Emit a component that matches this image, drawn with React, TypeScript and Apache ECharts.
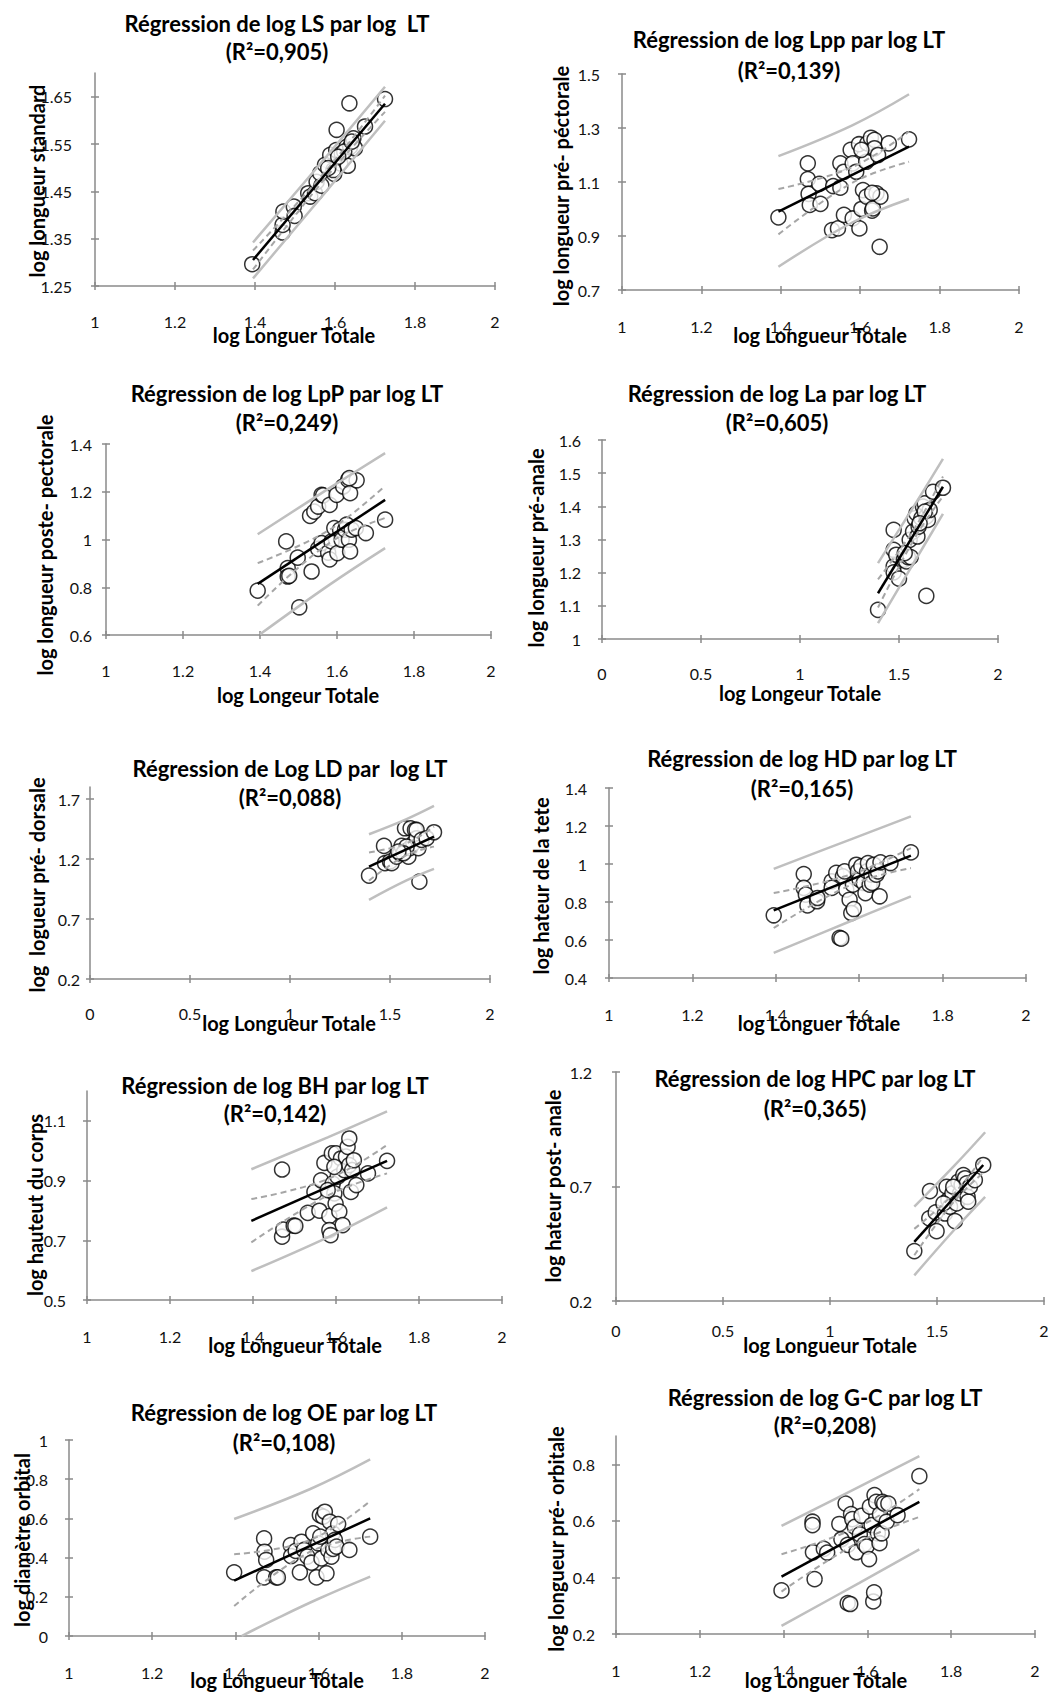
import React, { useEffect, useRef } from "react";
import * as echarts from "echarts";

// ---------- tick labels ----------
const xTicksA = [1, 1.2, 1.4, 1.6, 1.8, 2];
const xTicksB = [0, 0.5, 1, 1.5, 2];
const yTicksLS = [1.25, 1.35, 1.45, 1.55, 1.65];
const yTicksLpp = [0.7, 0.9, 1.1, 1.3, 1.5];
const yTicksLpP = [0.6, 0.8, 1, 1.2, 1.4];
const yTicksLa = [1, 1.1, 1.2, 1.3, 1.4, 1.5, 1.6];
const yTicksLD = [0.2, 0.7, 1.2, 1.7];
const yTicksHD = [0.4, 0.6, 0.8, 1, 1.2, 1.4];
const yTicksBH = [0.5, 0.7, 0.9, 1.1];
const yTicksHPC = [0.2, 0.7, 1.2];
const yTicksOE = [0, 0.2, 0.4, 0.6, 0.8, 1];
const yTicksGC = [0.2, 0.4, 0.6, 0.8];

// ---------- texts ----------
const titles = [
  "Régression de log LS par log  LT",
  "Régression de log Lpp par log LT",
  "Régression de log LpP par log LT",
  "Régression de log La par log LT",
  "Régression de Log LD par  log LT",
  "Régression de log HD par log LT",
  "Régression de log BH par log LT",
  "Régression de log HPC par log LT",
  "Régression de log OE par log LT",
  "Régression de log G-C par log LT",
];
const r2Labels = ["(R²=0,905)", "(R²=0,139)", "(R²=0,249)", "(R²=0,605)", "(R²=0,088)", "(R²=0,165)", "(R²=0,142)", "(R²=0,365)", "(R²=0,108)", "(R²=0,208)"];
const xNames = [
  "log Longuer Totale", "log Longueur Totale", "log Longeur Totale", "log Longeur Totale", "log Longueur Totale",
  "log Longuer Totale", "log Longueur Totale", "log Longueur Totale", "log Longueur Totale", "log Longuer Totale",
];
const yNames = [
  "log longueur standard", "log longueur pré- péctorale", "log longueur poste- pectorale", "log longueur pré-anale",
  "log  logueur pré- dorsale", "log hateur de la tete", "log hauteut du corps", "log hateur post- anale",
  "log diamètre orbital", "log longueur pré- orbitale",
];

// ---------- Panel 1: LS ----------
const lsPoints = [[1.393,1.296],[1.469,1.363],[1.469,1.379],[1.471,1.407],[1.497,1.418],[1.499,1.398],[1.533,1.446],[1.538,1.439],[1.55,1.446],[1.554,1.47],[1.566,1.462],[1.563,1.488],[1.575,1.506],[1.588,1.527],[1.598,1.487],[1.604,1.58],[1.603,1.537],[1.613,1.509],[1.617,1.53],[1.629,1.544],[1.632,1.504],[1.636,1.636],[1.638,1.544],[1.646,1.562],[1.65,1.541],[1.623,1.534],[1.675,1.587],[1.725,1.645],[1.596,1.495],[1.608,1.523],[1.642,1.555],[1.583,1.499]];
const lsFit = [[1.395,1.305],[1.725,1.635]];
const lsPredUp = [[1.395,1.342],[1.58,1.525],[1.725,1.671]];
const lsPredLo = [[1.395,1.266],[1.58,1.452],[1.725,1.599]];
const lsCiUp = [[1.395,1.325],[1.58,1.496],[1.725,1.652]];
const lsCiLo = [[1.395,1.285],[1.58,1.482],[1.725,1.618]];

// ---------- Panel 2: Lpp ----------
const lppPoints = [[1.394,0.969],[1.468,1.169],[1.468,1.111],[1.47,1.056],[1.473,1.015],[1.497,1.093],[1.5,1.019],[1.529,0.922],[1.544,0.928],[1.532,1.085],[1.55,1.079],[1.55,1.169],[1.559,1.138],[1.559,0.978],[1.576,1.219],[1.581,0.965],[1.581,1.169],[1.59,1.138],[1.597,1.24],[1.603,1.0],[1.598,0.928],[1.607,1.07],[1.615,1.175],[1.616,1.046],[1.618,1.243],[1.627,1.264],[1.63,0.994],[1.632,1.002],[1.636,1.256],[1.636,1.225],[1.641,1.058],[1.645,1.2],[1.649,0.86],[1.651,1.046],[1.672,1.243],[1.723,1.258],[1.63,1.06],[1.603,1.219]];
const lppFit = [[1.394,0.99],[1.723,1.231]];
const lppPredUp = [[1.394,1.196],[1.58,1.31],[1.723,1.425]];
const lppPredLo = [[1.394,0.786],[1.58,0.95],[1.723,1.037]];
const lppCiUp = [[1.394,1.074],[1.58,1.155],[1.723,1.287]];
const lppCiLo = [[1.394,0.906],[1.58,1.097],[1.723,1.175]];

// ---------- Panel 3: LpP ----------
const lpPPoints = [[1.394,0.786],[1.468,0.992],[1.472,0.88],[1.472,0.845],[1.476,0.848],[1.498,0.924],[1.502,0.716],[1.534,0.866],[1.53,1.099],[1.541,1.117],[1.551,1.138],[1.551,0.961],[1.56,1.187],[1.564,1.185],[1.56,0.985],[1.577,0.945],[1.581,1.145],[1.581,0.917],[1.586,0.992],[1.593,1.048],[1.599,1.187],[1.601,0.943],[1.608,1.041],[1.612,0.999],[1.616,1.222],[1.621,1.041],[1.625,1.062],[1.629,1.25],[1.631,0.999],[1.634,1.194],[1.634,0.95],[1.638,1.041],[1.649,1.048],[1.651,1.248],[1.675,1.027],[1.725,1.083],[1.632,1.257]];
const lpPFit = [[1.394,0.814],[1.725,1.166]];
const lpPPredUp = [[1.394,1.022],[1.58,1.215],[1.725,1.362]];
const lpPPredLo = [[1.4,0.603],[1.58,0.81],[1.725,0.964]];
const lpPCiUp = [[1.394,0.901],[1.58,1.04],[1.725,1.225]];
const lpPCiLo = [[1.394,0.723],[1.58,0.985],[1.725,1.09]];

// ---------- Panel 4: La ----------
const laPoints = [[1.394,1.088],[1.473,1.329],[1.473,1.269],[1.473,1.219],[1.473,1.201],[1.486,1.254],[1.5,1.182],[1.525,1.239],[1.537,1.234],[1.545,1.247],[1.559,1.247],[1.554,1.299],[1.571,1.324],[1.579,1.364],[1.588,1.379],[1.593,1.309],[1.599,1.339],[1.613,1.364],[1.621,1.399],[1.63,1.409],[1.638,1.369],[1.638,1.13],[1.646,1.359],[1.655,1.389],[1.672,1.444],[1.722,1.456],[1.63,1.384],[1.604,1.349],[1.529,1.259]];
const laFit = [[1.394,1.138],[1.722,1.459]];
const laPredUp = [[1.394,1.229],[1.58,1.405],[1.722,1.543]];
const laPredLo = [[1.394,1.048],[1.58,1.235],[1.722,1.377]];
const laCiUp = [[1.394,1.18],[1.58,1.335],[1.722,1.49]];
const laCiLo = [[1.394,1.095],[1.58,1.305],[1.722,1.43]];

// ---------- Panel 5: LD ----------
const ldPoints = [[1.395,1.062],[1.47,1.309],[1.475,1.165],[1.5,1.179],[1.508,1.165],[1.533,1.22],[1.55,1.248],[1.558,1.309],[1.575,1.456],[1.575,1.262],[1.592,1.22],[1.6,1.29],[1.603,1.456],[1.617,1.331],[1.625,1.442],[1.633,1.373],[1.633,1.442],[1.642,1.29],[1.647,1.012],[1.658,1.359],[1.683,1.373],[1.72,1.423],[1.583,1.303],[1.567,1.248],[1.542,1.262]];
const ldFit = [[1.395,1.137],[1.72,1.387]];
const ldPredUp = [[1.395,1.406],[1.58,1.53],[1.72,1.642]];
const ldPredLo = [[1.395,0.86],[1.58,1.02],[1.72,1.118]];
const ldCiUp = [[1.395,1.254],[1.58,1.33],[1.72,1.47]];
const ldCiLo = [[1.395,1.02],[1.58,1.23],[1.72,1.303]];

// ---------- Panel 6: HD ----------
const hdPoints = [[1.395,0.73],[1.467,0.947],[1.467,0.874],[1.472,0.839],[1.476,0.782],[1.499,0.804],[1.5,0.821],[1.534,0.909],[1.534,0.874],[1.545,0.953],[1.553,0.611],[1.557,0.607],[1.561,0.935],[1.565,0.961],[1.569,0.865],[1.577,0.812],[1.581,0.742],[1.587,0.763],[1.585,0.891],[1.593,0.996],[1.597,0.961],[1.601,0.918],[1.605,0.988],[1.611,0.9],[1.615,0.847],[1.619,0.961],[1.621,1.005],[1.625,0.891],[1.629,0.944],[1.631,0.9],[1.635,0.996],[1.641,0.944],[1.645,0.961],[1.649,0.83],[1.651,1.009],[1.675,1.005],[1.724,1.061]];
const hdFit = [[1.395,0.756],[1.724,1.044]];
const hdPredUp = [[1.395,0.974],[1.58,1.13],[1.724,1.251]];
const hdPredLo = [[1.395,0.532],[1.58,0.7],[1.724,0.83]];
const hdCiUp = [[1.395,0.847],[1.58,0.945],[1.724,1.084]];
const hdCiLo = [[1.395,0.663],[1.58,0.89],[1.724,0.979]];

// ---------- Panel 7: BH ----------
const bhPoints = [[1.47,0.937],[1.47,0.712],[1.473,0.736],[1.498,0.749],[1.502,0.748],[1.532,0.792],[1.548,0.862],[1.56,0.799],[1.564,0.901],[1.572,0.959],[1.584,0.781],[1.584,0.734],[1.587,0.717],[1.59,0.991],[1.592,0.89],[1.596,0.857],[1.599,0.823],[1.6,0.991],[1.604,0.913],[1.608,0.796],[1.612,0.974],[1.616,0.751],[1.62,0.935],[1.624,0.98],[1.628,1.013],[1.632,1.041],[1.632,0.952],[1.636,0.862],[1.639,0.935],[1.643,0.968],[1.649,0.885],[1.677,0.924],[1.723,0.966],[1.58,0.868],[1.596,0.946]];
const bhFit = [[1.396,0.765],[1.723,0.966]];
const bhPredUp = [[1.396,0.938],[1.58,1.045],[1.723,1.132]];
const bhPredLo = [[1.396,0.597],[1.58,0.71],[1.723,0.81]];
const bhCiUp = [[1.396,0.838],[1.58,0.905],[1.723,1.019]];
const bhCiLo = [[1.396,0.693],[1.58,0.85],[1.723,0.924]];

// ---------- Panel 8: HPC ----------
const hpcPoints = [[1.394,0.418],[1.467,0.68],[1.464,0.561],[1.494,0.587],[1.498,0.505],[1.537,0.582],[1.545,0.699],[1.553,0.641],[1.561,0.612],[1.572,0.67],[1.584,0.549],[1.592,0.626],[1.6,0.721],[1.608,0.67],[1.615,0.707],[1.623,0.75],[1.631,0.736],[1.639,0.714],[1.643,0.655],[1.646,0.634],[1.654,0.699],[1.677,0.728],[1.716,0.794],[1.53,0.626],[1.576,0.699]];
const hpcFit = [[1.394,0.458],[1.716,0.794]];
const hpcPredUp = [[1.394,0.612],[1.58,0.79],[1.725,0.937]];
const hpcPredLo = [[1.394,0.312],[1.58,0.51],[1.725,0.655]];
const hpcCiUp = [[1.394,0.515],[1.58,0.67],[1.716,0.83]];
const hpcCiLo = [[1.394,0.4],[1.58,0.635],[1.716,0.76]];

// ---------- Panel 9: OE ----------
const oePoints = [[1.397,0.325],[1.469,0.498],[1.47,0.43],[1.474,0.388],[1.469,0.299],[1.498,0.299],[1.502,0.299],[1.533,0.464],[1.534,0.408],[1.545,0.434],[1.555,0.325],[1.559,0.481],[1.565,0.439],[1.573,0.405],[1.583,0.374],[1.587,0.524],[1.595,0.299],[1.599,0.473],[1.603,0.617],[1.607,0.396],[1.611,0.609],[1.615,0.634],[1.619,0.32],[1.623,0.439],[1.627,0.583],[1.631,0.405],[1.634,0.524],[1.635,0.444],[1.639,0.49],[1.647,0.571],[1.643,0.456],[1.674,0.439],[1.724,0.507],[1.604,0.507]];
const oeFit = [[1.397,0.282],[1.724,0.6]];
const oePredUp = [[1.397,0.597],[1.58,0.75],[1.724,0.901]];
const oePredLo = [[1.415,0],[1.5,0.09],[1.6,0.19],[1.724,0.303]];
const oeCiUp = [[1.397,0.417],[1.58,0.49],[1.724,0.689]];
const oeCiLo = [[1.397,0.153],[1.58,0.43],[1.724,0.507]];

// ---------- Panel 10: G-C ----------
const gcPoints = [[1.395,0.354],[1.469,0.597],[1.469,0.585],[1.47,0.489],[1.474,0.394],[1.496,0.501],[1.504,0.488],[1.533,0.589],[1.538,0.535],[1.548,0.661],[1.553,0.515],[1.553,0.309],[1.559,0.306],[1.561,0.624],[1.564,0.606],[1.57,0.579],[1.574,0.489],[1.582,0.552],[1.586,0.618],[1.593,0.518],[1.598,0.509],[1.604,0.465],[1.606,0.65],[1.61,0.585],[1.614,0.315],[1.616,0.347],[1.617,0.691],[1.621,0.667],[1.625,0.556],[1.629,0.521],[1.63,0.623],[1.634,0.556],[1.636,0.667],[1.64,0.661],[1.646,0.597],[1.65,0.661],[1.672,0.62],[1.724,0.758]];
const gcFit = [[1.395,0.403],[1.724,0.667]];
const gcPredUp = [[1.395,0.582],[1.58,0.72],[1.724,0.829]];
const gcPredLo = [[1.395,0.229],[1.58,0.38],[1.724,0.499]];
const gcCiUp = [[1.395,0.482],[1.58,0.58],[1.724,0.712]];
const gcCiLo = [[1.395,0.35],[1.58,0.525],[1.724,0.614]];

// ---------- panel assembly (layout kept separate from data) ----------
const panels = [
  { pts: lsPoints, fit: lsFit, pu: lsPredUp, pl: lsPredLo, cu: lsCiUp, cl: lsCiLo, xr: [1, 2], xt: xTicksA, yr: [1.25, 1.7], yt: yTicksLS,
    g: { left: 95, top: 73, width: 400, height: 213 }, tx: 277, ty1: 23, ty2: 51, xnx: 294, xny: 335, ynx: 37, yny: 181, xm: 35, ym: 23 },
  { pts: lppPoints, fit: lppFit, pu: lppPredUp, pl: lppPredLo, cu: lppCiUp, cl: lppCiLo, xr: [1, 2], xt: xTicksA, yr: [0.7, 1.5], yt: yTicksLpp,
    g: { left: 622, top: 74, width: 397, height: 216 }, tx: 789, ty1: 39, ty2: 70, xnx: 820, xny: 335, ynx: 561, yny: 186, xm: 36, ym: 22 },
  { pts: lpPPoints, fit: lpPFit, pu: lpPPredUp, pl: lpPPredLo, cu: lpPCiUp, cl: lpPCiLo, xr: [1, 2], xt: xTicksA, yr: [0.6, 1.4], yt: yTicksLpP,
    g: { left: 106, top: 444, width: 385, height: 191 }, tx: 287, ty1: 393, ty2: 422, xnx: 298, xny: 695, ynx: 45, yny: 545, xm: 35, ym: 14 },
  { pts: laPoints, fit: laFit, pu: laPredUp, pl: laPredLo, cu: laCiUp, cl: laCiLo, xr: [0, 2], xt: xTicksB, yr: [1, 1.6], yt: yTicksLa,
    g: { left: 602, top: 440, width: 396, height: 199 }, tx: 777, ty1: 393, ty2: 422, xnx: 800, xny: 693, ynx: 536, yny: 548, xm: 34, ym: 21 },
  { pts: ldPoints, fit: ldFit, pu: ldPredUp, pl: ldPredLo, cu: ldCiUp, cl: ldCiLo, xr: [0, 2], xt: xTicksB, yr: [0.2, 1.8], yt: yTicksLD,
    g: { left: 90, top: 787, width: 400, height: 192 }, tx: 290, ty1: 768, ty2: 797, xnx: 289, xny: 1023, ynx: 37, yny: 885, xm: 34, ym: 10 },
  { pts: hdPoints, fit: hdFit, pu: hdPredUp, pl: hdPredLo, cu: hdCiUp, cl: hdCiLo, xr: [1, 2], xt: xTicksA, yr: [0.4, 1.4], yt: yTicksHD,
    g: { left: 609, top: 788, width: 417, height: 190 }, tx: 802, ty1: 758, ty2: 788, xnx: 819, xny: 1023, ynx: 541, yny: 886, xm: 36, ym: 22 },
  { pts: bhPoints, fit: bhFit, pu: bhPredUp, pl: bhPredLo, cu: bhCiUp, cl: bhCiLo, xr: [1, 2], xt: xTicksA, yr: [0.5, 1.2], yt: yTicksBH,
    g: { left: 87, top: 1091, width: 415, height: 209 }, tx: 275, ty1: 1085, ty2: 1113, xnx: 295, xny: 1345, ynx: 35, yny: 1205, xm: 36, ym: 21 },
  { pts: hpcPoints, fit: hpcFit, pu: hpcPredUp, pl: hpcPredLo, cu: hpcCiUp, cl: hpcCiLo, xr: [0, 2], xt: xTicksB, yr: [0.2, 1.2], yt: yTicksHPC,
    g: { left: 616, top: 1072, width: 428, height: 229 }, tx: 815, ty1: 1078, ty2: 1108, xnx: 830, xny: 1345, ynx: 553, yny: 1186, xm: 29, ym: 24 },
  { pts: oePoints, fit: oeFit, pu: oePredUp, pl: oePredLo, cu: oeCiUp, cl: oeCiLo, xr: [1, 2], xt: xTicksA, yr: [0, 1], yt: yTicksOE,
    g: { left: 69, top: 1440, width: 416, height: 196 }, tx: 284, ty1: 1412, ty2: 1442, xnx: 277, xny: 1680, ynx: 22, yny: 1540, xm: 36, ym: 21 },
  { pts: gcPoints, fit: gcFit, pu: gcPredUp, pl: gcPredLo, cu: gcCiUp, cl: gcCiLo, xr: [1, 2], xt: xTicksA, yr: [0.2, 0.9], yt: yTicksGC,
    g: { left: 616, top: 1436, width: 419, height: 198 }, tx: 825, ty1: 1397, ty2: 1425, xnx: 826, xny: 1680, ynx: 556, yny: 1539, xm: 36, ym: 21 },
];

const FONT = "Lato, 'Open Sans', sans-serif";
const AXIS_COLOR = "#8a8a8a";
const fmt = (v: number) => String(Math.round(v * 100) / 100);

function buildOption() {
  const grid: any[] = [];
  const xAxis: any[] = [];
  const yAxis: any[] = [];
  const series: any[] = [];
  const graphic: any[] = [];

  panels.forEach((p, i) => {
    grid.push({ ...p.g, containLabel: false });
    const axLine = { onZero: false, lineStyle: { color: AXIS_COLOR, width: 1.5 } };
    const tickStyle = { color: AXIS_COLOR, width: 1.5 };
    const labelBase = { fontSize: 16, fontFamily: FONT, color: "#111111", formatter: fmt };
    xAxis.push({
      gridIndex: i, type: "value", position: "bottom", min: p.xr[0], max: p.xr[1],
      axisLine: axLine,
      axisTick: { show: true, length: 4, customValues: p.xt, lineStyle: tickStyle },
      axisLabel: { ...labelBase, customValues: p.xt, margin: p.xm, verticalAlign: "middle" },
      splitLine: { show: false },
    });
    xAxis.push({
      gridIndex: i, type: "value", position: "bottom", min: p.xr[0], max: p.xr[1],
      axisLine: { show: false, onZero: false },
      axisTick: { show: true, inside: true, length: 4, customValues: p.xt, lineStyle: tickStyle },
      axisLabel: { show: false },
      splitLine: { show: false },
    });
    yAxis.push({
      gridIndex: i, type: "value", position: "left", min: p.yr[0], max: p.yr[1],
      axisLine: { ...axLine, show: true },
      axisTick: { show: true, length: 4, customValues: p.yt, lineStyle: tickStyle },
      axisLabel: { ...labelBase, customValues: p.yt, margin: p.ym },
      splitLine: { show: false },
    });
    yAxis.push({
      gridIndex: i, type: "value", position: "left", min: p.yr[0], max: p.yr[1],
      axisLine: { show: false, onZero: false },
      axisTick: { show: true, inside: true, length: 4, customValues: p.yt, lineStyle: tickStyle },
      axisLabel: { show: false },
      splitLine: { show: false },
    });

    const xi = 2 * i;
    const yi = 2 * i;
    series.push({
      type: "scatter", xAxisIndex: xi, yAxisIndex: yi, data: p.pts, symbol: "circle", symbolSize: 15,
      itemStyle: { color: "#ffffff", borderColor: "#000000", borderWidth: 1.5 }, z: 2,
    });
    const lineBase = { type: "line", xAxisIndex: xi, yAxisIndex: yi, symbol: "none", showSymbol: false, silent: true };
    series.push({ ...lineBase, data: p.pu, smooth: 0.4, lineStyle: { color: "#bfbfbf", width: 2.5 }, z: 3 });
    series.push({ ...lineBase, data: p.pl, smooth: 0.4, lineStyle: { color: "#bfbfbf", width: 2.5 }, z: 3 });
    series.push({ ...lineBase, data: p.cu, smooth: 0.4, lineStyle: { color: "#a6a6a6", width: 2, type: [6, 4] }, z: 3 });
    series.push({ ...lineBase, data: p.cl, smooth: 0.4, lineStyle: { color: "#a6a6a6", width: 2, type: [6, 4] }, z: 3 });
    series.push({ ...lineBase, data: p.fit, lineStyle: { color: "#000000", width: 2.5 }, z: 4 });

    const bold = { fontWeight: "bold", fontFamily: FONT, fill: "#000", align: "center", verticalAlign: "middle" };
    graphic.push({ type: "text", x: p.tx, y: p.ty1, z: 10, style: { text: titles[i], fontSize: 22, ...bold } });
    graphic.push({ type: "text", x: p.tx, y: p.ty2, z: 10, style: { text: r2Labels[i], fontSize: 22, ...bold } });
    graphic.push({ type: "text", x: p.xnx, y: p.xny, z: 10, style: { text: xNames[i], fontSize: 20, ...bold } });
    graphic.push({ type: "text", x: p.ynx, y: p.yny, rotation: Math.PI / 2, z: 10, style: { text: yNames[i], fontSize: 20, ...bold } });
  });

  return { animation: false, backgroundColor: "#ffffff", grid, xAxis, yAxis, series, graphic };
}

export default function App() {
  const ref = useRef<HTMLDivElement>(null);
  useEffect(() => {
    if (!ref.current) return;
    const chart = echarts.init(ref.current, undefined, { renderer: "svg" });
    chart.setOption(buildOption() as any);
    return () => chart.dispose();
  }, []);
  return (
    <div style={{ position: "absolute", left: 0, top: 0, width: 1056, height: 1694, background: "#fff" }}>
      <div ref={ref} style={{ width: 1056, height: 1694 }} />
    </div>
  );
}
